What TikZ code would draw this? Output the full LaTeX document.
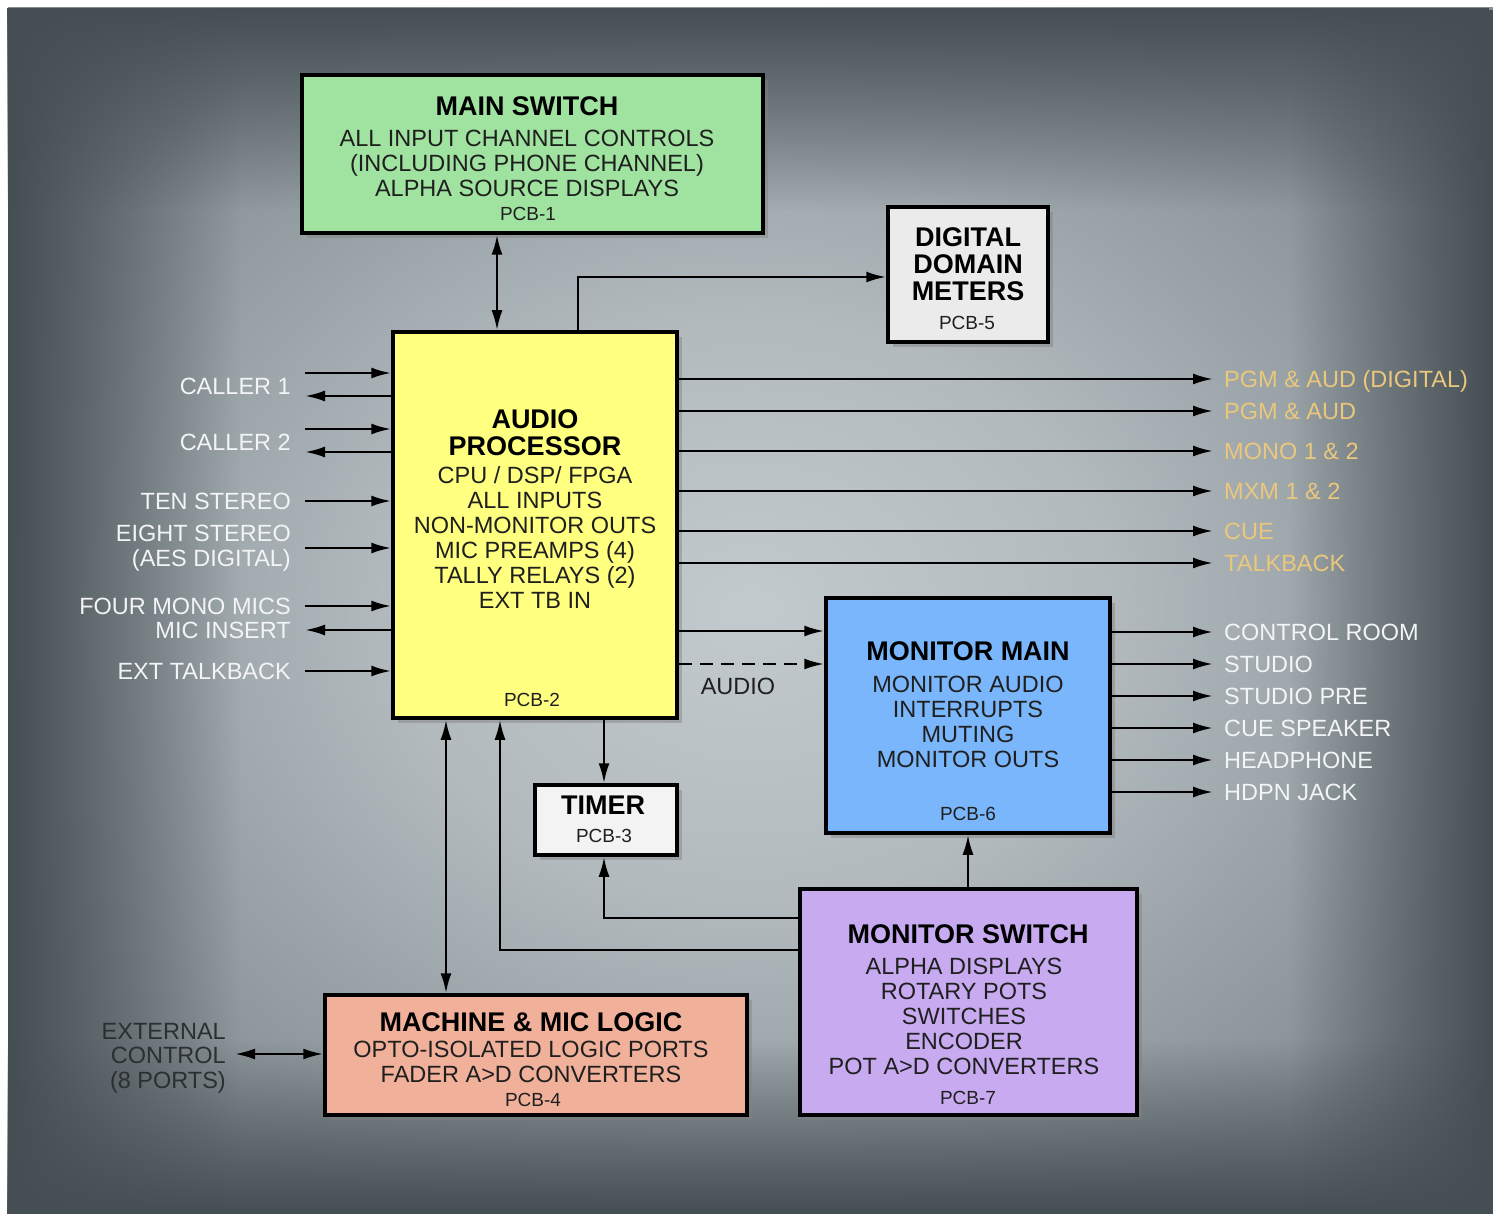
\documentclass[tikz,border=0pt]{standalone}
\usepackage{fontspec}
\setmainfont{Liberation Sans}
\usetikzlibrary{arrows.meta,shadows,fadings}

\definecolor{pnlc}{HTML}{C3CACE}
\definecolor{pnla}{HTML}{B2BABE}
\definecolor{pnlb}{HTML}{9AA3A8}
\definecolor{pnld}{HTML}{858E93}
\definecolor{pnlf}{HTML}{454E53}
\definecolor{msgreen}{HTML}{A0E3A0}
\definecolor{apyellow}{HTML}{FFFF80}
\definecolor{mmblue}{HTML}{7AB6FB}
\definecolor{swpurple}{HTML}{C8AAF0}
\definecolor{mlsalmon}{HTML}{F0B09A}
\definecolor{ddgray}{HTML}{EBEBEB}
\definecolor{tmgray}{HTML}{F3F3F3}
\definecolor{lblwhite}{HTML}{F2F4F5}
\definecolor{lblgold}{HTML}{EBC77C}
\definecolor{lbldark}{HTML}{2C2F32}

\pgfdeclareradialshading{panelshade}{\pgfpoint{0bp}{0bp}}{color(0bp)=(pnlc); color(12bp)=(pnla); color(20bp)=(pnlb); color(28bp)=(pnld); color(50bp)=(pnld)}
\tikzfading[name=edgeleft, left color=transparent!0, right color=transparent!100]
\tikzfading[name=edgeright, left color=transparent!100, right color=transparent!0]
\tikzfading[name=edgetop, top color=transparent!0, bottom color=transparent!100]
\tikzfading[name=edgebottom, top color=transparent!100, bottom color=transparent!0]

\begin{document}
\begin{tikzpicture}[x=1pt,y=-1pt]
    \tikzstyle{pcbbox}=[draw=black,line width=3.5pt,inner sep=0pt,drop shadow={shadow xshift=5pt,shadow yshift=-5pt,opacity=0.45}]
    \tikzstyle{ttl}=[inner sep=0pt,align=center,font=\fontsize{27}{27}\selectfont\bfseries,text=black]
    \tikzstyle{body}=[inner sep=0pt,align=center,font=\fontsize{23.5}{25}\selectfont,text=black!88]
    \tikzstyle{pcb}=[inner sep=0pt,font=\fontsize{19}{19}\selectfont,text=black!88]
    \tikzstyle{inlbl}=[anchor=east,inner xsep=14pt,inner ysep=0pt,align=right,font=\fontsize{23.5}{24.5}\selectfont,text=lblwhite]
    \tikzstyle{outlbl}=[anchor=west,inner xsep=11pt,inner ysep=0pt,text height=17pt,text depth=0pt,font=\fontsize{23.5}{25}\selectfont,text=lblwhite]
    \tikzstyle{arr}=[line width=2.5pt,-{Latex[length=20pt,width=11pt]}]
    \tikzstyle{dbl}=[line width=2.5pt,{Latex[length=20pt,width=11pt]}-{Latex[length=20pt,width=11pt]}]

    % background panel
    \useasboundingbox (0,0) rectangle (1493,1214);
    \fill[white] (0,0) rectangle (1493,1214);
    \shade[shading=panelshade] (8,8) rectangle (1493,1214);
    \fill[pnlf,path fading=edgeleft]   (8,8) rectangle (240,1214);
    \fill[pnlf,path fading=edgeright]  (1290,8) rectangle (1493,1214);
    \fill[pnlf,path fading=edgetop]    (8,8) rectangle (1493,210);
    \fill[pnlf,path fading=edgebottom] (8,1040) rectangle (1493,1214);

    % boards
    \node (ms) [pcbbox,fill=msgreen,minimum width=461pt,minimum height=158pt]  at (532.5,154)  {};
    \node (dd) [pcbbox,fill=ddgray,minimum width=160pt,minimum height=135pt]   at (968,274.5)  {};
    \node (ap) [pcbbox,fill=apyellow,minimum width=284pt,minimum height=386pt] at (535,525)    {};
    \node (mm) [pcbbox,fill=mmblue,minimum width=284pt,minimum height=235pt]   at (968,715.5)  {};
    \node (tm) [pcbbox,fill=tmgray,minimum width=142pt,minimum height=70pt]    at (606,820)    {};
    \node (sw) [pcbbox,fill=swpurple,minimum width=337pt,minimum height=226pt] at (968.5,1002) {};
    \node (ml) [pcbbox,fill=mlsalmon,minimum width=422pt,minimum height=120pt] at (536,1055)   {};

    \node (mst) [ttl]  at (527,106)    {MAIN SWITCH};
    \node (msb) [body] at (527,163)    {ALL INPUT CHANNEL CONTROLS\\(INCLUDING PHONE CHANNEL)\\ALPHA SOURCE DISPLAYS};
    \node (msp) [pcb]  at (528,214)    {PCB-1};
    \node (ddt) [ttl]  at (968,264)    {DIGITAL\\DOMAIN\\METERS};
    \node (ddp) [pcb]  at (967,323)    {PCB-5};
    \node (apt) [ttl]  at (535,432.5)  {AUDIO\\PROCESSOR};
    \node (apb) [body] at (535,537.5)  {CPU / DSP/ FPGA\\ALL INPUTS\\NON-MONITOR OUTS\\MIC PREAMPS (4)\\TALLY RELAYS (2)\\EXT TB IN};
    \node (app) [pcb]  at (532,700)    {PCB-2};
    \node (mmt) [ttl]  at (968,651)    {MONITOR MAIN};
    \node (mmb) [body] at (968,721.5)  {MONITOR AUDIO\\INTERRUPTS\\MUTING\\MONITOR OUTS};
    \node (mmp) [pcb]  at (968,814)    {PCB-6};
    \node (tmt) [ttl]  at (603,805)    {TIMER};
    \node (tmp) [pcb]  at (604,836)    {PCB-3};
    \node (swt) [ttl]  at (968,934)    {MONITOR SWITCH};
    \node (swb) [body] at (964,1016)   {ALPHA DISPLAYS\\ROTARY POTS\\SWITCHES\\ENCODER\\POT A>D CONVERTERS};
    \node (swp) [pcb]  at (968,1098)   {PCB-7};
    \node (mlt) [ttl]  at (531,1022)   {MACHINE \& MIC LOGIC};
    \node (mlb) [body] at (531,1061.5) {OPTO-ISOLATED LOGIC PORTS\\FADER A>D CONVERTERS};
    \node (mlp) [pcb]  at (533,1100)   {PCB-4};

    % inputs on the left
    \node (c1)    [inlbl] at (305,386) {CALLER 1};
    \node (c2)    [inlbl] at (305,442) {CALLER 2};
    \node (ten)   [inlbl] at (305,501) {TEN STEREO};
    \node (eight) [inlbl] at (305,548) {EIGHT STEREO\\(AES DIGITAL)};
    \node (four)  [inlbl] at (305,606) {FOUR MONO MICS};
    \node (mic)   [inlbl] at (305,630) {MIC INSERT};
    \node (etb)   [inlbl] at (305,671) {EXT TALKBACK};
    \coordinate (c1i) at (305,373);
    \coordinate (c1o) at (305,396);
    \coordinate (c2i) at (305,429);
    \coordinate (c2o) at (305,452);
    \draw[arr] (c1i) -- (c1i -| ap.west);
    \draw[arr] (c1o -| ap.west) -- (c1o);
    \draw[arr] (c2i) -- (c2i -| ap.west);
    \draw[arr] (c2o -| ap.west) -- (c2o);
    \draw[arr] (ten.east) -- (ten.east -| ap.west);
    \draw[arr] (eight.east) -- (eight.east -| ap.west);
    \draw[arr] (four.east) -- (four.east -| ap.west);
    \draw[arr] (mic.east -| ap.west) -- (mic.east);
    \draw[arr] (etb.east) -- (etb.east -| ap.west);

    % outputs on the right
    \node (pgmd) [outlbl,text=lblgold] at (1213,379) {PGM \& AUD (DIGITAL)};
    \node (pgm)  [outlbl,text=lblgold] at (1213,411) {PGM \& AUD};
    \node (mono) [outlbl,text=lblgold] at (1213,451) {MONO 1 \& 2};
    \node (mxm)  [outlbl,text=lblgold] at (1213,491) {MXM 1 \& 2};
    \node (cue)  [outlbl,text=lblgold] at (1213,531) {CUE};
    \node (tb)   [outlbl,text=lblgold] at (1213,563) {TALKBACK};
    \foreach \o in {pgmd,pgm,mono,mxm,cue,tb}
        \draw[arr] (\o.west -| ap.east) -- (\o.west);

    \node (cr)  [outlbl] at (1213,632) {CONTROL ROOM};
    \node (st)  [outlbl] at (1213,664) {STUDIO};
    \node (stp) [outlbl] at (1213,696) {STUDIO PRE};
    \node (cs)  [outlbl] at (1213,728) {CUE SPEAKER};
    \node (hp)  [outlbl] at (1213,760) {HEADPHONE};
    \node (hj)  [outlbl] at (1213,792) {HDPN JACK};
    \foreach \o in {cr,st,stp,cs,hp,hj}
        \draw[arr] (\o.west -| mm.east) -- (\o.west);

    % board to board
    \coordinate (msap) at (497,283);
    \coordinate (apdd) at (578,277);
    \coordinate (apmm) at (700,631);
    \coordinate (apmd) at (700,664);
    \coordinate (aptm) at (604,750);
    \coordinate (swtm) at (604,918);
    \coordinate (swap) at (500,950);
    \coordinate (apml) at (446,850);
    \coordinate (swmm) at (968,860);
    \coordinate (exml) at (235,1054);
    \draw[dbl] (msap |- ms.south) -- (msap |- ap.north);
    \draw[arr] (apdd |- ap.north) -- (apdd) -- (apdd -| dd.west);
    \draw[arr] (apmm -| ap.east) -- (apmm -| mm.west);
    \draw[arr,dashed,dash pattern=on 13pt off 8pt] (apmd -| ap.east) -- (apmd -| mm.west);
    \node (aud) [body] at (738,686) {AUDIO};
    \draw[arr] (aptm |- ap.south) -- (aptm |- tm.north);
    \draw[arr] (swtm -| sw.west) -- (swtm) -- (swtm |- tm.south);
    \draw[arr] (swap -| sw.west) -- (swap) -- (swap |- ap.south);
    \draw[dbl] (apml |- ap.south) -- (apml |- ml.north);
    \draw[arr] (swmm |- sw.north) -- (swmm |- mm.south);

    \node (ext) [inlbl,inner xsep=9pt,text=lbldark] at (235,1058) {EXTERNAL\\CONTROL\\(8 PORTS)};
    \draw[dbl] (exml) -- (exml -| ml.west);
\end{tikzpicture}
\end{document}
